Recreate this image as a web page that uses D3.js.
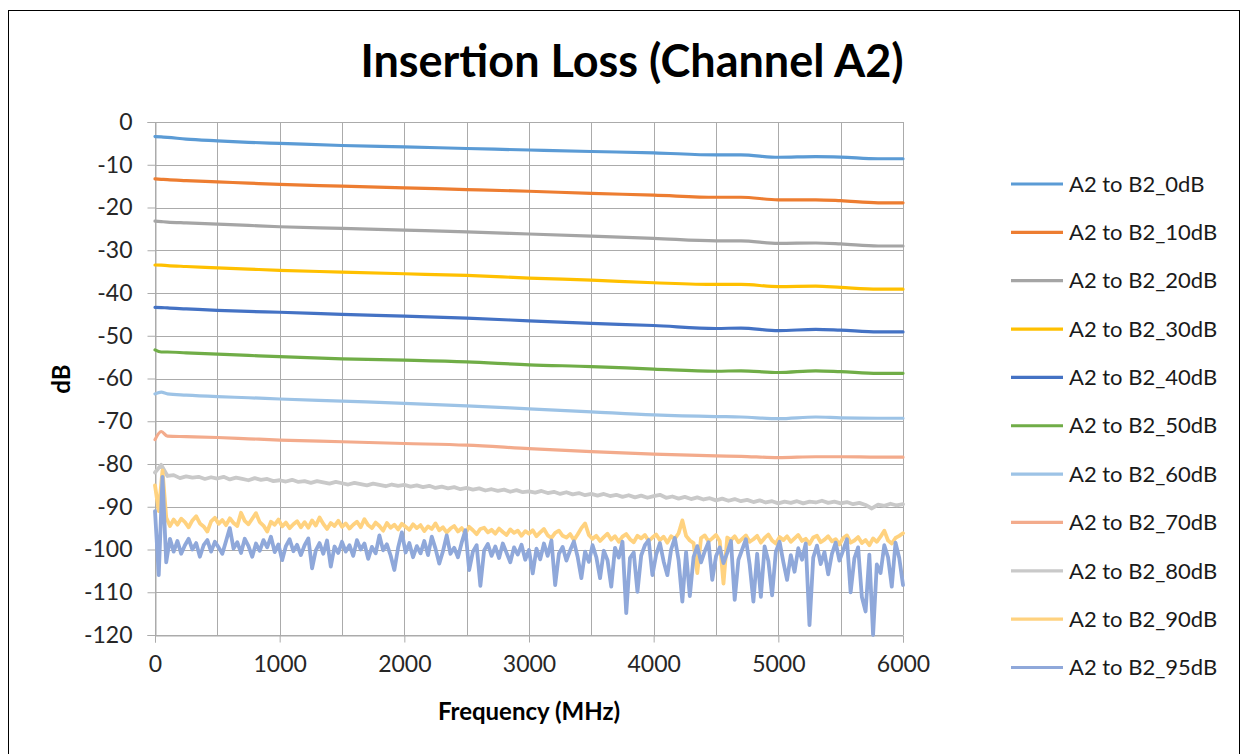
<!DOCTYPE html>
<html>
<head>
<meta charset="utf-8">
<script src="https://cdn.jsdelivr.net/npm/d3@7"></script>
<style>
  html, body { margin: 0; padding: 0; background: #fff; }
  svg { display: block; }
  text { font-family: Lato, "Open Sans", sans-serif; }
</style>
</head>
<body>
<svg id="chart" width="1249" height="754"></svg>
<script>
// ---------------- DATA ----------------
const chartTitle = "Insertion Loss (Channel A2)";
const xTitle = "Frequency (MHz)";
const yTitle = "dB";
const seriesNames = ["A2 to B2_0dB","A2 to B2_10dB","A2 to B2_20dB","A2 to B2_30dB","A2 to B2_40dB",
  "A2 to B2_50dB","A2 to B2_60dB","A2 to B2_70dB","A2 to B2_80dB","A2 to B2_90dB","A2 to B2_95dB"];
const seriesColors = ["#5B9BD5","#ED7D31","#A5A5A5","#FFC000","#4472C4","#70AD47",
  "#9DC3E6","#F3AB8C","#C9C9C9","#FFD27F","#8FA8DA"];
const xTicks = [0,1000,2000,3000,4000,5000,6000];
const xGrid = [0,500,1000,1500,2000,2500,3000,3500,4000,4500,5000,5500,6000];
const yTicks = [0,-10,-20,-30,-40,-50,-60,-70,-80,-90,-100,-110,-120];

// smooth traces (MHz)
const freqSmooth = [0,50,100,250,500,750,1000,1500,2000,2500,3000,3500,4000,4500,4700,5000,5300,5500,5800,6000];
const loss0dB  = [-3.4,-3.5,-3.6,-4.0,-4.4,-4.75,-5.0,-5.5,-5.8,-6.2,-6.55,-6.9,-7.2,-7.7,-7.7,-8.25,-8.1,-8.2,-8.6,-8.6];
const loss10dB = [-13.3,-13.4,-13.5,-13.7,-14.0,-14.3,-14.6,-15.0,-15.4,-15.8,-16.2,-16.7,-17.1,-17.6,-17.6,-18.2,-18.2,-18.4,-18.9,-18.9];
const loss20dB = [-23.2,-23.3,-23.4,-23.6,-23.9,-24.2,-24.5,-24.9,-25.3,-25.7,-26.2,-26.7,-27.2,-27.8,-27.8,-28.4,-28.3,-28.5,-29.0,-29.0];
const loss30dB = [-33.45,-33.5,-33.6,-33.8,-34.1,-34.4,-34.7,-35.1,-35.5,-35.9,-36.5,-37.0,-37.6,-38.0,-38.0,-38.5,-38.4,-38.7,-39.1,-39.1];
const loss40dB = [-43.35,-43.4,-43.5,-43.7,-44.05,-44.3,-44.5,-45.0,-45.4,-45.9,-46.5,-47.1,-47.6,-48.3,-48.2,-48.8,-48.5,-48.7,-49.1,-49.1];
const loss50dB = [-53.3,-53.8,-53.8,-54.0,-54.3,-54.6,-54.9,-55.4,-55.7,-56.1,-56.8,-57.2,-57.8,-58.3,-58.2,-58.6,-58.2,-58.4,-58.8,-58.8];
const loss60dB = [-63.6,-63.2,-63.6,-63.9,-64.25,-64.5,-64.8,-65.3,-65.8,-66.4,-67.1,-67.8,-68.5,-68.9,-69.0,-69.4,-69.0,-69.2,-69.3,-69.3];
const loss70dB = [-74.3,-72.4,-73.5,-73.6,-73.8,-74.1,-74.4,-74.8,-75.2,-75.6,-76.4,-77.1,-77.7,-78.1,-78.2,-78.5,-78.3,-78.3,-78.4,-78.4];

// noisy traces: 80 dB every 50 MHz, 90/95 dB every 30 MHz
const step80 = 50, step90 = 30, step95 = 30;
const loss80dB = [
  -82.0,-80.2,-82.8,-82.6,-83.3,-82.9,-83.2,-83.0,-83.5,-83.1,
  -83.4,-83.0,-83.6,-83.2,-83.5,-83.8,-83.3,-83.7,-83.5,-84.0,
  -83.8,-84.1,-83.7,-84.2,-84.0,-84.4,-84.0,-84.3,-84.6,-84.2,
  -84.5,-84.8,-84.4,-84.7,-85.0,-84.6,-84.9,-85.2,-84.8,-85.1,
  -84.9,-85.3,-85.0,-85.4,-85.1,-85.6,-85.3,-85.7,-85.4,-85.9,
  -85.6,-86.0,-85.7,-86.2,-85.9,-86.3,-86.0,-86.5,-86.1,-86.6,
  -86.4,-86.7,-86.3,-86.8,-86.5,-87.0,-86.6,-87.1,-86.8,-87.3,
  -87.0,-87.4,-87.0,-87.5,-87.2,-87.7,-87.3,-87.8,-87.4,-87.9,
  -87.5,-87.2,-87.9,-87.6,-88.1,-87.7,-88.2,-87.8,-88.3,-88.0,
  -88.5,-88.1,-88.6,-88.2,-88.7,-88.4,-88.9,-88.5,-89.0,-88.7,
  -89.2,-88.8,-89.1,-88.7,-89.2,-88.8,-89.0,-88.6,-89.1,-88.8,
  -89.2,-88.9,-89.4,-89.1,-89.6,-90.4,-89.5,-89.8,-89.3,-89.7,
  -89.4];
const loss90dB = [
  -85.0,-91.0,-81.5,-92.5,-94.5,-93.0,-94.2,-92.8,-93.6,-94.8,
  -93.2,-92.2,-93.9,-94.6,-95.8,-93.4,-92.6,-94.0,-93.1,-94.3,
  -92.7,-93.8,-94.5,-91.4,-93.3,-94.1,-92.8,-91.5,-93.6,-94.4,
  -95.8,-93.5,-94.2,-93.0,-94.6,-93.7,-95.0,-94.1,-93.4,-94.8,
  -93.6,-94.9,-93.2,-94.4,-92.5,-94.0,-95.2,-93.8,-94.5,-93.3,
  -94.7,-93.9,-95.1,-94.2,-93.5,-94.8,-92.9,-94.3,-95.0,-93.7,
  -94.5,-95.6,-93.8,-94.9,-94.2,-95.3,-94.0,-94.7,-95.4,-94.1,
  -95.0,-94.3,-95.7,-94.6,-95.2,-93.9,-95.5,-94.8,-96.0,-95.1,
  -94.5,-95.8,-95.0,-96.2,-94.7,-95.5,-96.4,-95.2,-94.9,-96.0,
  -95.4,-96.3,-95.1,-95.9,-96.6,-95.3,-96.1,-95.6,-96.8,-95.7,
  -96.3,-95.5,-96.9,-96.0,-95.2,-96.7,-97.3,-96.1,-95.6,-96.8,
  -97.2,-96.4,-97.8,-96.5,-95.0,-93.9,-96.6,-97.5,-96.8,-98.0,
  -97.1,-96.3,-97.7,-96.9,-98.2,-97.0,-96.4,-97.6,-98.3,-96.8,
  -97.4,-96.6,-98.0,-97.2,-96.5,-97.8,-97.0,-98.4,-96.9,-97.5,
  -96.2,-93.2,-96.8,-97.9,-98.5,-105.5,-97.3,-96.7,-98.1,-97.4,
  -96.6,-98.0,-108.0,-97.2,-97.8,-96.9,-98.3,-97.5,-96.7,-98.2,
  -97.6,-96.8,-98.4,-97.3,-96.5,-97.9,-98.6,-97.1,-97.8,-96.9,
  -98.2,-97.4,-96.6,-98.0,-97.5,-98.7,-97.2,-96.8,-98.3,-97.7,
  -96.9,-98.1,-97.6,-98.8,-97.3,-96.7,-98.4,-97.9,-97.1,-98.5,
  -97.8,-99.0,-97.4,-98.2,-97.0,-95.6,-97.9,-98.6,-97.3,-96.8,
  -96.2];
const loss95dB = [
  -91.0,-106.0,-83.0,-103.0,-97.5,-100.5,-98.0,-101.0,-99.0,-97.5,
  -100.0,-98.5,-101.7,-99.0,-97.8,-100.5,-98.2,-99.5,-101.0,-98.0,
  -95.0,-99.8,-98.3,-100.8,-97.5,-99.2,-101.7,-98.6,-100.3,-97.8,
  -99.5,-97.0,-100.6,-98.8,-102.5,-99.2,-97.6,-100.4,-98.9,-101.3,
  -99.0,-97.4,-104.4,-100.2,-98.5,-101.0,-97.9,-104.0,-99.3,-100.8,
  -98.2,-100.5,-99.0,-101.5,-97.8,-100.0,-98.6,-102.2,-99.4,-100.9,
  -96.7,-100.2,-98.8,-101.4,-104.8,-99.6,-96.0,-100.7,-98.5,-101.8,
  -99.2,-100.9,-98.0,-101.3,-97.0,-99.8,-103.3,-100.4,-96.7,-101.0,
  -99.6,-101.8,-98.4,-95.5,-104.8,-100.5,-99.0,-108.5,-100.2,-98.7,
  -101.5,-99.3,-102.0,-98.6,-100.8,-103.0,-99.5,-101.2,-98.9,-102.4,
  -100.1,-105.6,-99.8,-102.3,-98.6,-101.5,-97.9,-108.3,-101.0,-99.4,
  -102.6,-100.2,-98.1,-101.7,-106.7,-100.5,-102.9,-99.0,-101.8,-106.7,
  -100.3,-102.5,-108.7,-99.6,-101.9,-98.2,-114.9,-102.0,-100.7,-109.9,
  -101.4,-99.0,-97.8,-106.0,-101.2,-98.5,-102.8,-106.0,-100.0,-97.3,
  -102.5,-112.2,-100.6,-110.9,-101.8,-99.2,-103.0,-100.4,-98.3,-107.1,
  -101.6,-99.5,-103.2,-100.8,-98.0,-111.8,-102.4,-100.0,-97.6,-103.5,
  -112.2,-101.0,-111.1,-99.3,-102.7,-110.7,-100.5,-98.2,-102.9,-107.1,
  -101.3,-105.2,-99.7,-102.4,-98.6,-117.7,-101.9,-99.1,-103.4,-100.6,
  -105.8,-101.0,-98.4,-102.6,-100.2,-97.6,-110.0,-102.1,-99.5,-111.1,
  -114.5,-101.2,-120.0,-103.5,-105.5,-99.0,-101.8,-108.7,-98.4,-102.0,
  -108.3];

// ---------------- BUILD ----------------
const series = [
  {values: loss0dB,  freq: freqSmooth, smooth: true},
  {values: loss10dB, freq: freqSmooth, smooth: true},
  {values: loss20dB, freq: freqSmooth, smooth: true},
  {values: loss30dB, freq: freqSmooth, smooth: true},
  {values: loss40dB, freq: freqSmooth, smooth: true},
  {values: loss50dB, freq: freqSmooth, smooth: true},
  {values: loss60dB, freq: freqSmooth, smooth: true},
  {values: loss70dB, freq: freqSmooth, smooth: true},
  {values: loss80dB, freq: loss80dB.map((_, i) => i * step80), smooth: false},
  {values: loss90dB, freq: loss90dB.map((_, i) => i * step90), smooth: false},
  {values: loss95dB, freq: loss95dB.map((_, i) => i * step95), smooth: false}
].map((s, i) => ({
  name: seriesNames[i], color: seriesColors[i], smooth: s.smooth,
  points: s.values.map((v, j) => ({f: s.freq[j], v: v}))
}));

const svg = d3.select("#chart");
svg.append("rect").attr("x", 0).attr("y", 0).attr("width", 1249).attr("height", 754).attr("fill", "#fff");
svg.append("rect").attr("x", 8.5).attr("y", 10.5).attr("width", 1231).attr("height", 800)
  .attr("fill", "none").attr("stroke", "#000").attr("stroke-width", 1);

const x = d3.scaleLinear().domain([0, 6000]).range([155, 903]);
const y = d3.scaleLinear().domain([-120, 0]).range([635, 122]);
const gridColor = "#ababab";

// gridlines
const grid = svg.append("g");
grid.selectAll("line.v").data(xGrid).join("line")
  .attr("x1", d => Math.round(x(d)) + 0.5).attr("x2", d => Math.round(x(d)) + 0.5)
  .attr("y1", y(0)).attr("y2", y(-120))
  .attr("stroke", gridColor).attr("stroke-width", 1);
grid.selectAll("line.h").data(yTicks).join("line")
  .attr("y1", d => Math.round(y(d)) + 0.5).attr("y2", d => Math.round(y(d)) + 0.5)
  .attr("x1", x(0)).attr("x2", x(6000))
  .attr("stroke", gridColor).attr("stroke-width", 1);

// axes
const yAxis = d3.axisLeft(y).tickValues(yTicks).tickFormat(d => String(d)).tickSize(8).tickPadding(15);
const xAxis = d3.axisBottom(x).tickValues(xTicks).tickFormat(d => String(d)).tickSize(7).tickPadding(13);
const gy = svg.append("g").attr("transform", `translate(${Math.round(x(0)) + 0.5},0)`).call(yAxis);
const gx = svg.append("g").attr("transform", `translate(0,${Math.round(y(-120)) + 0.5})`).call(xAxis);
[gx, gy].forEach(g => {
  g.select(".domain").attr("stroke", gridColor);
  g.selectAll(".tick line").attr("stroke", gridColor);
  g.selectAll(".tick text").attr("fill", "#262626").style("font-size", "23px").style("font-family", "Lato");
});

// lines
const plot = svg.append("g");
series.forEach(s => {
  const line = d3.line().x(d => x(d.f)).y(d => y(d.v))
    .curve(s.smooth ? d3.curveMonotoneX : d3.curveLinear);
  plot.append("path").datum(s.points)
    .attr("d", line).attr("fill", "none")
    .attr("stroke", s.color).attr("stroke-width", s.smooth ? 3.2 : 3.8)
    .attr("stroke-linejoin", "round").attr("stroke-linecap", "round");
});

// titles
svg.append("text").attr("x", 632).attr("y", 77).attr("text-anchor", "middle")
  .style("font-size", "45px").style("font-weight", "bold").attr("fill", "#000").text(chartTitle);
svg.append("text").attr("x", 529).attr("y", 720).attr("text-anchor", "middle")
  .style("font-size", "24px").style("font-weight", "bold").attr("fill", "#000").text(xTitle);
svg.append("text").attr("transform", "translate(70,379) rotate(-90)").attr("text-anchor", "middle")
  .style("font-size", "24px").style("font-weight", "bold").attr("fill", "#000").text(yTitle);

// legend
const legendY0 = 184, legendStep = 48.35;
const lg = svg.append("g");
series.forEach((s, i) => {
  const yy = legendY0 + i * legendStep;
  lg.append("line").attr("x1", 1011).attr("x2", 1063).attr("y1", yy).attr("y2", yy)
    .attr("stroke", s.color).attr("stroke-width", 3.2);
  lg.append("text").attr("x", 1069).attr("y", yy).attr("dy", "0.35em")
    .style("font-size", "22px").attr("fill", "#1a1a1a").text(s.name);
});
</script>
</body>
</html>
